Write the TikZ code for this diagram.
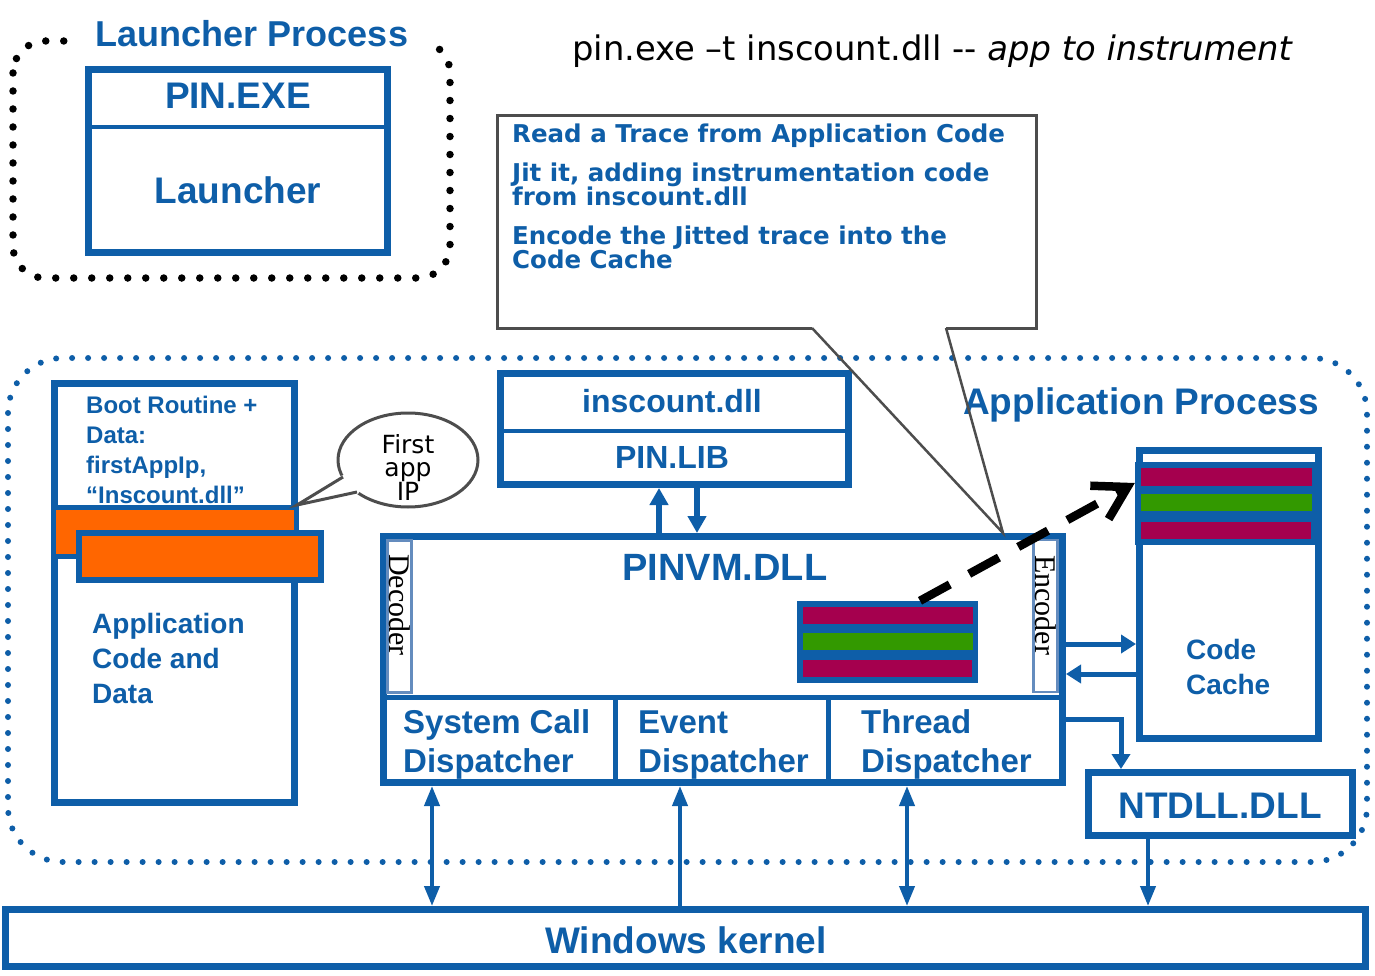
\documentclass[tikz,border=0pt]{standalone}
\usepackage{fontspec}
\usepackage{graphicx}
\usetikzlibrary{arrows.meta,shapes.geometric}
\newfontfamily\lib{Liberation Sans}
\newfontfamily\dv{DejaVu Sans}
\newfontfamily\lser{Liberation Serif}
\newcommand{\fsz}[1]{\fontsize{#1}{#1}\selectfont}
\definecolor{pblue}{RGB}{14,94,168}
\definecolor{ored}{RGB}{255,102,0}
\definecolor{mag}{RGB}{165,0,78}
\definecolor{grn}{RGB}{51,153,0}
\definecolor{cgray}{RGB}{77,77,77}
\definecolor{sblue}{RGB}{100,140,190}
\begin{document}
\begin{tikzpicture}[x=1pt,y=-1pt,
  bbox/.style={draw=pblue,line width=7pt,fill=white,inner sep=0pt},
  lbl/.style={text=pblue,inner sep=0pt,anchor=base},
  lblw/.style={text=pblue,inner sep=0pt,anchor=base west},
  ldots/.style={draw=black,line width=7.5pt,dash pattern=on 0pt off 18pt,line cap=round},
  adots/.style={draw=pblue,line width=6pt,dash pattern=on 0pt off 16pt,line cap=round},
  sarr/.style={draw=pblue,line width=6pt,-{Triangle[length=17pt,width=18pt]}},
  carr/.style={draw=pblue,line width=5pt,-{Triangle[length=15pt,width=18pt]}},
  karr/.style={draw=pblue,line width=4pt,-{Triangle[length=20pt,width=15pt]}},
  kdarr/.style={draw=pblue,line width=4pt,{Triangle[length=20pt,width=15pt]}-{Triangle[length=20pt,width=15pt]}},
  strip/.style={draw=sblue,line width=2.5pt,fill=white,inner sep=0pt},
  rot/.style={rotate=-90,inner sep=0pt,font=\lser\fsz{30}},
  divl/.style={draw=pblue,line width=5pt},
  ctext/.style={text=pblue,inner sep=0pt,font=\dv\bfseries\fsz{24.5},anchor=base west},
]
\useasboundingbox (0,0) rectangle (1375,976);

% ---------- Launcher process
\draw[ldots, rounded corners=32pt] (13,41) rectangle (450,278);
\node[lbl, fill=white, inner xsep=20pt, inner ysep=5pt, font=\lib\bfseries\fsz{36}] (lptitle) at (252,47) {Launcher Process};
\node[bbox, minimum width=299pt, minimum height=183pt] (pinexe) at (238,161) {};
\draw[divl, line width=4.5pt] (pinexe.west |- 0,127) -- (pinexe.east |- 0,127);
\node[lbl, font=\lib\bfseries\fsz{37}] (pinexet) at (238,109) {PIN.EXE};
\node[lbl, font=\lib\bfseries\fsz{37}] (launchert) at (238,204) {Launcher};

% ---------- command line
\node[anchor=base west, inner sep=0pt, font=\dv\fsz{33.8}] (cmd) at (572,61) {pin.exe –t inscount.dll -{}- \textit{app to instrument}};

% ---------- callout box
\draw[cgray, line width=3pt, line join=miter] (812,328) -- (497,328) -- (497,116) -- (1036,116) -- (1036,328) -- (946,328);
\node[ctext] (c1) at (512,143) {Read a Trace from Application Code};
\node[ctext] (c2) at (512,182) {Jit it, adding instrumentation code};
\node[ctext] (c3) at (512,206) {from inscount.dll};
\node[ctext] (c4) at (512,245) {Encode the Jitted trace into the};
\node[ctext] (c5) at (512,269) {Code Cache};
\coordinate (ctip) at (1003,533);

% ---------- Application process
\draw[adots, rounded corners=55pt] (8,358) rectangle (1367,862);
\node[lbl, font=\lib\bfseries\fsz{37}] (aptitle) at (1141,414) {Application Process};

% left application box
\node[bbox, minimum width=240pt, minimum height=419pt] (appbox) at (174.5,593) {};
\node[lblw, font=\lib\bfseries\fsz{24}] (b1) at (86,413) {Boot Routine +};
\node[lblw, font=\lib\bfseries\fsz{24}] (b2) at (86,443) {Data:};
\node[lblw, font=\lib\bfseries\fsz{24}] (b3) at (86,473) {firstAppIp,};
\node[lblw, font=\lib\bfseries\fsz{24}] (b4) at (86,503) {“Inscount.dll”};
\node[fill=ored, draw=pblue, line width=5pt, minimum width=243pt, minimum height=49pt, inner sep=0pt] (or1) at (174.5,531.5) {};
\node[fill=ored, draw=pblue, line width=6pt, minimum width=242pt, minimum height=47pt, inner sep=0pt] (or2) at (200,556.5) {};
\node[lblw, font=\lib\bfseries\fsz{28}] (a1) at (92,633) {Application};
\node[lblw, font=\lib\bfseries\fsz{28}] (a2) at (92,668) {Code and};
\node[lblw, font=\lib\bfseries\fsz{28}] (a3) at (92,703) {Data};

% speech bubble
\node[ellipse, draw=cgray, line width=3pt, fill=white, minimum width=140pt, minimum height=94pt, inner sep=0pt] (bubble) at (408,460) {};
\fill[white] (306,500) -- (341,476) -- (352,472) -- (362,487) -- (358,494) -- cycle;
\coordinate (tailtip) at (297,505);
\draw[cgray, line width=3pt, line join=miter] (343,477) -- (tailtip) -- (357,492);
\node[lbl, text=black, font=\dv\fsz{25}] (f1) at (408,453) {First};
\node[lbl, text=black, font=\dv\fsz{25}] (f2) at (408,476) {app};
\node[lbl, text=black, font=\dv\fsz{25}] (f3) at (408,500) {IP};

% inscount / PIN.LIB
\node[bbox, minimum width=348pt, minimum height=111pt] (lib) at (674.5,429) {};
\draw[divl, line width=4.5pt] (lib.west |- 0,431) -- (lib.east |- 0,431);
\node[lbl, font=\lib\bfseries\fsz{32}] (inst) at (672,412) {inscount.dll};
\node[lbl, font=\lib\bfseries\fsz{32}] (pinlibt) at (672,468) {PIN.LIB};

% PINVM
\node[bbox, minimum width=679pt, minimum height=246pt] (pinvm) at (723,659.5) {};
\draw[divl] (pinvm.west |- 0,697) -- (pinvm.east |- 0,697);
\draw[divl] (615,697) -- (615,0 |- pinvm.south);
\draw[divl] (828,697) -- (828,0 |- pinvm.south);
\node[strip, minimum width=24pt, minimum height=152pt] (dec) at (399.5,616.5) {};
\node[rot] (dect) at (400,605) {Decoder};
\node[strip, minimum width=24pt, minimum height=152pt] (enc) at (1045.5,616) {};
\node[rot] (enct) at (1046,605) {Encoder};
\node[lbl, font=\lib\bfseries\fsz{38}] (pinvmt) at (725,580) {PINVM.DLL};
\node[lblw, font=\lib\bfseries\fsz{33}] (s1) at (403,733) {System Call};
\node[lblw, font=\lib\bfseries\fsz{33}] (s2) at (403,772) {Dispatcher};
\node[lblw, font=\lib\bfseries\fsz{33}] (e1) at (638,733) {Event};
\node[lblw, font=\lib\bfseries\fsz{33}] (e2) at (638,772) {Dispatcher};
\node[lblw, font=\lib\bfseries\fsz{33}] (t1) at (861,733) {Thread};
\node[lblw, font=\lib\bfseries\fsz{33}] (t2) at (861,772) {Dispatcher};

% trace in PINVM
\node[fill=pblue, inner sep=0pt, minimum width=181pt, minimum height=82pt] (trace) at (887.5,642) {};
\fill[mag] (803,607) rectangle (973,624);
\fill[grn] (803,633) rectangle (973,650);
\fill[mag] (803,660) rectangle (972,677);

% Code cache
\node[bbox, minimum width=179pt, minimum height=288pt] (cache) at (1229,594.5) {};
\node[fill=pblue, inner sep=0pt, minimum width=187pt, minimum height=83pt] (cstack) at (1228.5,503.5) {};
\fill[mag] (1141,468) rectangle (1312,486);
\fill[grn] (1141,494) rectangle (1312,511);
\fill[mag] (1141,522) rectangle (1311,539);
\node[lblw, font=\lib\bfseries\fsz{28}] (cc1) at (1186,659) {Code};
\node[lblw, font=\lib\bfseries\fsz{28}] (cc2) at (1186,694) {Cache};

% NTDLL
\node[bbox, minimum width=264pt, minimum height=63pt] (ntdll) at (1220.5,804) {};
\node[lbl, font=\lib\bfseries\fsz{37}] (ntdllt) at (1220,818) {NTDLL.DLL};

% Windows kernel
\node[bbox, minimum width=1360pt, minimum height=57pt] (kernel) at (685.5,938) {};
\node[lbl, font=\lib\bfseries\fsz{37}] (kernelt) at (686,953) {Windows kernel};

% ---------- arrows
\draw[sarr] (659,0 |- pinvm.north) -- (659,0 |- lib.south);
\draw[sarr] (697,0 |- lib.south) -- (697,0 |- pinvm.north);
\draw[carr] (pinvm.east |- 0,644) -- (cache.west |- 0,644);
\draw[carr] (cache.west |- 0,674) -- (pinvm.east |- 0,674);
\draw[carr] (pinvm.east |- 0,719) -| (ntdll.north -| 1121,0);
\draw[kdarr] (432,0 |- pinvm.south) -- (432,0 |- kernel.north);
\draw[karr] (680,0 |- kernel.north) -- (680,0 |- pinvm.south);
\draw[kdarr] (907,0 |- pinvm.south) -- (907,0 |- kernel.north);
\draw[karr] (1148,0 |- ntdll.south) -- (1148,0 |- kernel.north);

% dashed jit arrow
\draw[line width=8.5pt, dash pattern=on 34pt off 22pt, -{Straight Barb[length=32pt,width=38pt]}] (trace.north -| 920,0) -- (cstack.west |- 0,483);

% callout pointer
\draw[cgray, line width=2.5pt, line join=miter] (812,328) -- (ctip) -- (946,328);
\end{tikzpicture}
\end{document}
